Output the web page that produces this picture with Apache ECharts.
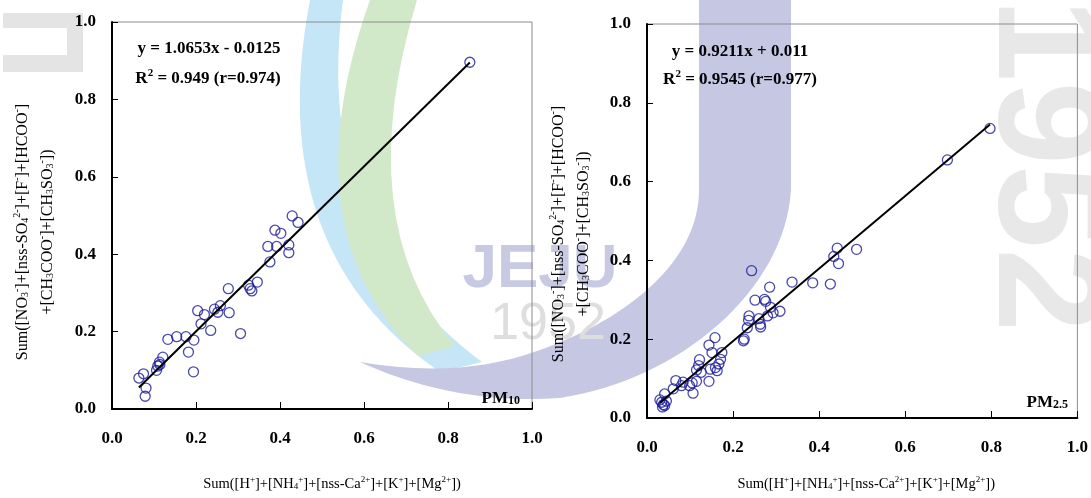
<!DOCTYPE html>
<html>
<head>
<meta charset="utf-8">
<script src="https://cdn.jsdelivr.net/npm/echarts@6/dist/echarts.min.js"></script>
<style>
  html, body { margin: 0; padding: 0; background: #fff; }
  #chart { width: 1091px; height: 498px; }
</style>
</head>
<body>
<div id="chart"></div>
<script>
// PM10: sum of cations (x) vs sum of anions (y)
const pm10Cation = [0.852, 0.429, 0.443, 0.388, 0.402, 0.371, 0.392, 0.421, 0.421, 0.376,
  0.346, 0.325, 0.329, 0.333, 0.277, 0.258, 0.244, 0.252, 0.279, 0.204,
  0.220, 0.212, 0.235, 0.306, 0.195, 0.176, 0.154, 0.133, 0.182, 0.194,
  0.121, 0.113, 0.109, 0.106, 0.114, 0.075, 0.064, 0.081, 0.079];
const pm10Anion = [0.896, 0.499, 0.482, 0.462, 0.454, 0.420, 0.420, 0.424, 0.404, 0.380,
  0.328, 0.320, 0.311, 0.305, 0.311, 0.267, 0.258, 0.250, 0.249, 0.254,
  0.244, 0.220, 0.203, 0.195, 0.178, 0.187, 0.187, 0.180, 0.147, 0.096,
  0.134, 0.121, 0.111, 0.100, 0.115, 0.091, 0.080, 0.054, 0.033];

// PM2.5: sum of cations (x) vs sum of anions (y)
const pm25Cation = [0.797, 0.698, 0.487, 0.442, 0.434, 0.445, 0.243, 0.337, 0.385, 0.426,
  0.285, 0.251, 0.273, 0.276, 0.287, 0.309, 0.293, 0.280, 0.237, 0.236,
  0.260, 0.263, 0.264, 0.233, 0.226, 0.224, 0.158, 0.144, 0.151, 0.174,
  0.171, 0.167, 0.159, 0.122, 0.120, 0.115, 0.147, 0.126, 0.163, 0.144,
  0.115, 0.105, 0.099, 0.107, 0.084, 0.067, 0.080, 0.061, 0.041, 0.030,
  0.034, 0.038, 0.041, 0.036, 0.045];
const pm25Anion = [0.735, 0.655, 0.428, 0.431, 0.410, 0.392, 0.374, 0.345, 0.343, 0.340,
  0.332, 0.299, 0.301, 0.296, 0.281, 0.271, 0.267, 0.259, 0.259, 0.248,
  0.252, 0.238, 0.231, 0.229, 0.200, 0.196, 0.204, 0.185, 0.166, 0.166,
  0.149, 0.137, 0.128, 0.148, 0.133, 0.122, 0.124, 0.116, 0.120, 0.093,
  0.093, 0.089, 0.082, 0.063, 0.091, 0.095, 0.082, 0.074, 0.061, 0.046,
  0.040, 0.034, 0.032, 0.028, 0.043];

// Linear fits printed on each panel
const pm10Fit = [1.0653, -0.0125];   // slope, intercept
const pm25Fit = [0.9211, 0.011];
const pm10Stats = ['0.949', '0.974']; // R², r
const pm25Stats = ['0.9545', '0.977'];

const axisRange = [0, 1.0];
const tickStep = 0.2;

const SERIF = '"Liberation Serif", "Times New Roman", serif';
const INK = '#000';
const RING = '#1a1a9a';

const pairs = (xs, ys) => xs.map((x, i) => [x, ys[i]]);
function fitLine(xs, fit) {
  const lo = Math.min(...xs), hi = Math.max(...xs);
  return [[lo, fit[0] * lo + fit[1]], [hi, fit[0] * hi + fit[1]]];
}

function nameRich(size) {
  const small = Math.round(size * 0.62);
  return {
    n:  { fontFamily: SERIF, fontSize: size, color: INK, verticalAlign: 'middle' },
    sp: { fontFamily: SERIF, fontSize: small, color: INK, verticalAlign: 'middle', padding: [0, 0, Math.round(size * 0.62), 0] },
    sb: { fontFamily: SERIF, fontSize: small, color: INK, verticalAlign: 'middle', padding: [Math.round(size * 0.4), 0, 0, 0] }
  };
}

const xName = '{n|Sum([H}{sp|+}{n|]+[NH}{sb|4}{sp|+}{n|]+[nss-Ca}{sp|2+}{n|]+[K}{sp|+}{n|]+[Mg}{sp|2+}{n|])}';
const yName = '{n|Sum([NO}{sb|3}{sp|-}{n|]+[nss-SO}{sb|4}{sp|2-}{n|]+[F}{sp|-}{n|]+[HCOO}{sp|-}{n|]}\n' +
              '{n|+[CH}{sb|3}{n|COO}{sp|-}{n|]+[CH}{sb|3}{n|SO}{sb|3}{sp|-}{n|])}';

const tickLabel = {
  color: INK, fontFamily: SERIF, fontWeight: 'bold', fontSize: 17,
  formatter: v => v.toFixed(1)
};

function xAxisFor(gridIndex, nameGap, shift) {
  return {
    gridIndex, type: 'value', min: axisRange[0], max: axisRange[1], interval: tickStep,
    axisLine: { show: true, onZero: false, lineStyle: { color: INK, width: 2 } },
    axisTick: { show: true, inside: true, length: 7, lineStyle: { color: INK, width: 1 } },
    axisLabel: Object.assign({ margin: 21 }, tickLabel),
    splitLine: { show: false },
    name: xName, nameLocation: 'middle', nameGap,
    nameTextStyle: { rich: nameRich(14.5), lineHeight: 18, padding: [0, 0, 0, shift] }
  };
}
function yAxisFor(gridIndex, nameGap, shift) {
  return {
    gridIndex, type: 'value', min: axisRange[0], max: axisRange[1], interval: tickStep,
    axisLine: { show: true, onZero: false, lineStyle: { color: INK, width: 2 } },
    axisTick: { show: true, inside: true, length: 6, lineStyle: { color: INK, width: 1 } },
    axisLabel: Object.assign({ margin: 16 }, tickLabel),
    splitLine: { show: false },
    name: yName, nameLocation: 'middle', nameRotate: 90, nameGap,
    nameTextStyle: { rich: nameRich(16), lineHeight: 25, padding: [0, shift, 0, 0] }
  };
}

function scatterFor(idx, xs, ys) {
  return {
    type: 'scatter', xAxisIndex: idx, yAxisIndex: idx, data: pairs(xs, ys),
    symbol: 'circle', symbolSize: 10, z: 2,
    itemStyle: { color: 'rgba(0,0,0,0)', borderColor: RING, borderWidth: 1.3 }
  };
}
function trendFor(idx, xs, fit) {
  return {
    type: 'line', xAxisIndex: idx, yAxisIndex: idx, data: fitLine(xs, fit),
    symbol: 'none', z: 3, lineStyle: { color: INK, width: 2 }
  };
}

// panel annotations
const eqRich = {
  sup: { fill: INK, font: 'bold 11px ' + SERIF, padding: [0, 0, 12, 0], verticalAlign: 'middle' },
  sub: { fill: INK, font: 'bold 12px ' + SERIF, padding: [4, 0, 0, 0], verticalAlign: 'middle' },
  b:   { fill: INK, font: 'bold 17px ' + SERIF, verticalAlign: 'middle' }
};
function note(x, y, text, align) {
  return {
    type: 'text', x, y, z: 20, silent: true,
    style: { text, align, verticalAlign: 'middle', fill: INK, font: 'bold 17px ' + SERIF, rich: eqRich }
  };
}
const fmtSigned = (v) => (v < 0 ? '- ' : '+ ') + Math.abs(v);

// faint university emblem behind both panels
const emblemPaths = {
  emblemBlue:  'M 310 0 Q 262 250 440 372 L 482 362 Q 312 236 343 0 Z',
  emblemGreen: 'M 370 0 Q 288 230 418 356 L 455 346 Q 350 220 417 0 Z',
  emblemJ:     'M 699 0 L 791 0 L 791 190 C 785 290 680 380 560 398 C 480 404 410 385 360 362 C 420 372 480 372 540 350 C 630 318 699 260 699 190 Z',
  emblemU:     'M 3 13 L 83 13 L 83 72 L 3 72 L 3 55 L 67 55 L 67 28 L 3 28 Z'
};
const emblemFill = { emblemBlue: '#c4e6f6', emblemGreen: '#d2e9c9', emblemJ: '#c6c8e3', emblemU: '#e4e4e4' };
const backdrop = [];
try {
  Object.keys(emblemPaths).forEach(k => {
    echarts.graphic.registerShape(k, echarts.graphic.extendPath(emblemPaths[k], {}));
    backdrop.push({ type: k, z: -5, silent: true, style: { fill: emblemFill[k] } });
  });
} catch (err) { /* shapes unavailable: plain background */ }
backdrop.push(
  { type: 'text', z: -5, silent: true, x: 540, y: 270,
    style: { text: 'JEJU', font: 'bold 62px "Liberation Sans", sans-serif', fill: '#c8cae4', align: 'center', verticalAlign: 'middle' } },
  { type: 'text', z: -5, silent: true, x: 548, y: 325,
    style: { text: '1952', font: '52px "Liberation Sans", sans-serif', fill: '#dedede', align: 'center', verticalAlign: 'middle' } },
  { type: 'text', z: -5, silent: true, x: 1040, y: 165, rotation: -Math.PI / 2,
    style: { text: '1952', font: 'bold 150px "Liberation Sans", sans-serif', fill: '#e8e8e8', align: 'center', verticalAlign: 'middle' } }
);

const chart = echarts.init(document.getElementById('chart'));
chart.setOption({
  animation: false,
  backgroundColor: '#fff',
  grid: [
    { left: 112, top: 22, width: 420, height: 395, show: true, borderColor: '#8c8c8c', borderWidth: 1 },
    { left: 647, top: 24, width: 434, height: 397, show: true, borderColor: '#8c8c8c', borderWidth: 1 }
  ],
  xAxis: [xAxisFor(0, 66, 20), xAxisFor(1, 57, 8)],
  yAxis: [yAxisFor(0, 52, 33), yAxisFor(1, 51, 26)],
  series: [
    scatterFor(0, pm10Cation, pm10Anion),
    trendFor(0, pm10Cation, pm10Fit),
    scatterFor(1, pm25Cation, pm25Anion),
    trendFor(1, pm25Cation, pm25Fit)
  ],
  graphic: backdrop.concat([
    note(209, 49, '{b|y = ' + pm10Fit[0] + 'x ' + fmtSigned(pm10Fit[1]) + '}', 'center'),
    note(208, 79, '{b|R}{sup|2}{b| = ' + pm10Stats[0] + ' (r=' + pm10Stats[1] + ')}', 'center'),
    note(740, 52, '{b|y = ' + pm25Fit[0] + 'x ' + fmtSigned(pm25Fit[1]) + '}', 'center'),
    note(740, 80, '{b|R}{sup|2}{b| = ' + pm25Stats[0] + ' (r=' + pm25Stats[1] + ')}', 'center'),
    note(520, 399, '{b|PM}{sub|10}', 'right'),
    note(1068, 403, '{b|PM}{sub|2.5}', 'right')
  ])
});
</script>
</body>
</html>
